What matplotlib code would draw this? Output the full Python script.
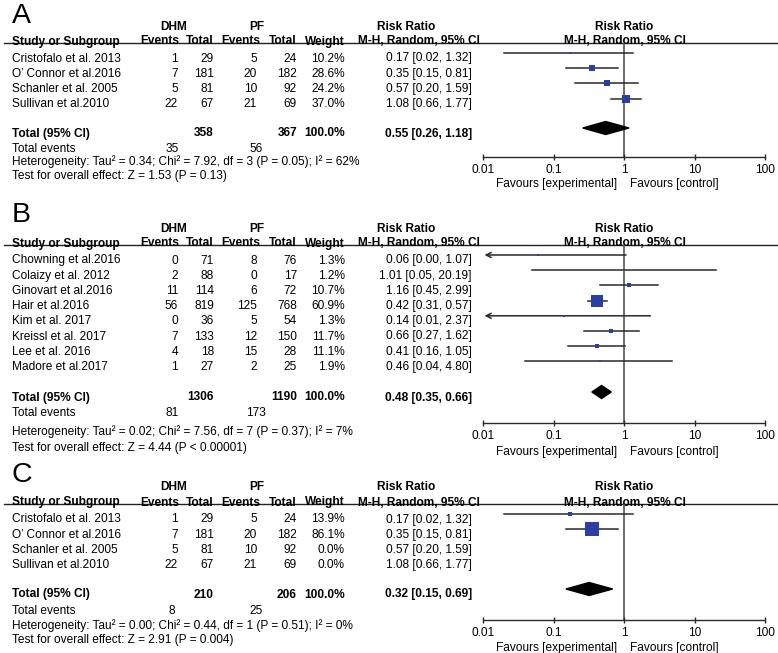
import matplotlib
matplotlib.use("Agg")
import matplotlib.pyplot as plt
from matplotlib.ticker import NullLocator

plt.rcParams['font.family'] = ['Liberation Sans', 'DejaVu Sans']

W, H = 778, 653

# ---- panel A ----
a_studies = ["Cristofalo et al. 2013", "O’ Connor et al.2016", "Schanler et al. 2005", "Sullivan et al.2010"]
a_dhm_events = [1, 7, 5, 22]
a_dhm_total = [29, 181, 81, 67]
a_pf_events = [5, 20, 10, 21]
a_pf_total = [24, 182, 92, 69]
a_weight = [10.2, 28.6, 24.2, 37.0]
a_rr = [0.17, 0.35, 0.57, 1.08]
a_lo = [0.02, 0.15, 0.20, 0.66]
a_hi = [1.32, 0.81, 1.59, 1.77]
a_totals = [358, 367]
a_pooled = [0.55, 0.26, 1.18]
a_events = [35, 56]
a_het = "Heterogeneity: Tau² = 0.34; Chi² = 7.92, df = 3 (P = 0.05); I² = 62%"
a_test = "Test for overall effect: Z = 1.53 (P = 0.13)"

# ---- panel B ----
b_studies = ["Chowning et al.2016", "Colaizy et al. 2012", "Ginovart et al.2016", "Hair et al.2016",
             "Kim et al. 2017", "Kreissl et al. 2017", "Lee et al. 2016", "Madore et al.2017"]
b_dhm_events = [0, 2, 11, 56, 0, 7, 4, 1]
b_dhm_total = [71, 88, 114, 819, 36, 133, 18, 27]
b_pf_events = [8, 0, 6, 125, 5, 12, 15, 2]
b_pf_total = [76, 17, 72, 768, 54, 150, 28, 25]
b_weight = [1.3, 1.2, 10.7, 60.9, 1.3, 11.7, 11.1, 1.9]
b_rr = [0.06, 1.01, 1.16, 0.42, 0.14, 0.66, 0.41, 0.46]
b_lo = [0.00, 0.05, 0.45, 0.31, 0.01, 0.27, 0.16, 0.04]
b_hi = [1.07, 20.19, 2.99, 0.57, 2.37, 1.62, 1.05, 4.80]
b_totals = [1306, 1190]
b_pooled = [0.48, 0.35, 0.66]
b_events = [81, 173]
b_het = "Heterogeneity: Tau² = 0.02; Chi² = 7.56, df = 7 (P = 0.37); I² = 7%"
b_test = "Test for overall effect: Z = 4.44 (P < 0.00001)"

# ---- panel C ----
c_studies = a_studies
c_dhm_events = [1, 7, 5, 22]
c_dhm_total = [29, 181, 81, 67]
c_pf_events = [5, 20, 10, 21]
c_pf_total = [24, 182, 92, 69]
c_weight = [13.9, 86.1, 0.0, 0.0]
c_rr = [0.17, 0.35, 0.57, 1.08]
c_lo = [0.02, 0.15, 0.20, 0.66]
c_hi = [1.32, 0.81, 1.59, 1.77]
c_totals = [210, 206]
c_pooled = [0.32, 0.15, 0.69]
c_events = [8, 25]
c_het = "Heterogeneity: Tau² = 0.00; Chi² = 0.44, df = 1 (P = 0.51); I² = 0%"
c_test = "Test for overall effect: Z = 2.91 (P = 0.004)"

BLUE = '#2b3ea3'
LINE = '#2a2a2a'
FS = 8.6

fig = plt.figure(figsize=(W / 100, H / 100), dpi=100)
bg = fig.add_axes([0, 0, 1, 1])
bg.set_xlim(0, W)
bg.set_ylim(H, 0)
bg.axis('off')


def txt(x, y, s, ha='left', bold=False, size=FS):
    bg.text(x, y + 4.5, s, ha=ha, va='baseline', fontsize=size,
            fontweight='bold' if bold else 'normal', color='black')


def panel(letter, lay, studies, de, dt, pe, pt, wt, rr, lo, hi, totals, pooled, events, het, test):
    sy = lay['study']
    line_y = sy + 3
    axis_y = lay['axis']
    bg.text(12, lay['letter'], letter, fontsize=20.5, va='baseline', ha='left')

    # headers
    txt(174, sy - 15, "DHM", ha='center', bold=True)
    txt(257, sy - 15, "PF", ha='center', bold=True)
    txt(406, sy - 15, "Risk Ratio", ha='center', bold=True)
    txt(624, sy - 15, "Risk Ratio", ha='center', bold=True)
    txt(12, sy, "Study or Subgroup", bold=True)
    txt(179, sy, "Events", ha='right', bold=True)
    txt(214, sy, "Total", ha='right', bold=True)
    txt(260, sy, "Events", ha='right', bold=True)
    txt(297, sy, "Total", ha='right', bold=True)
    txt(345, sy, "Weight", ha='right', bold=True)
    txt(419, sy, "M-H, Random, 95% CI", ha='center', bold=True)
    txt(625, sy, "M-H, Random, 95% CI", ha='center', bold=True)
    bg.plot([4, W], [line_y, line_y], color='#222222', lw=1.0)

    rows = [sy + 17 + 15.2 * i for i in range(len(studies))]
    for i, y in enumerate(rows):
        txt(12, y, studies[i])
        txt(178, y, str(de[i]), ha='right')
        txt(214, y, str(dt[i]), ha='right')
        txt(257, y, str(pe[i]), ha='right')
        txt(297, y, str(pt[i]), ha='right')
        txt(345, y, f"{wt[i]:.1f}%", ha='right')
        txt(472, y, f"{rr[i]:.2f} [{lo[i]:.2f}, {hi[i]:.2f}]", ha='right')

    ty = lay['total']
    txt(12, ty, "Total (95% CI)", bold=True)
    txt(214, ty, str(totals[0]), ha='right', bold=True)
    txt(297, ty, str(totals[1]), ha='right', bold=True)
    txt(345, ty, "100.0%", ha='right', bold=True)
    txt(472, ty, f"{pooled[0]:.2f} [{pooled[1]:.2f}, {pooled[2]:.2f}]", ha='right', bold=True)
    txt(12, lay['events'], "Total events")
    txt(172, lay['events'], str(events[0]), ha='center')
    txt(256, lay['events'], str(events[1]), ha='center')
    txt(12, lay['het'], het)
    txt(12, lay['test'], test)

    # forest plot
    x0, x1 = 483, 765
    ax = fig.add_axes([x0 / W, 1 - axis_y / H, (x1 - x0) / W, (axis_y - line_y) / H])
    ax.patch.set_visible(False)
    ax.set_xscale('log')
    ax.set_xlim(0.01, 100)
    ax.set_ylim(axis_y, line_y)
    for s in ['left', 'right', 'top']:
        ax.spines[s].set_visible(False)
    ax.spines['bottom'].set_color(LINE)
    ax.spines['bottom'].set_linewidth(1.0)
    ax.set_yticks([])
    ax.set_xticks([0.01, 0.1, 1, 10, 100], ['0.01', '0.1', '1', '10', '100'])
    ax.xaxis.set_minor_locator(NullLocator())
    ax.tick_params(axis='x', direction='inout', length=4.5, width=1.0, color=LINE,
                   pad=2.5, labelsize=FS)
    ax.axvline(1, color='#555555', lw=1.2, zorder=1)

    for i, y in enumerate(rows):
        if wt[i] <= 0:
            continue
        my = y - 4
        if lo[i] <= 0.01:
            ax.annotate('', xy=(0.0105, my), xytext=(hi[i], my),
                        arrowprops=dict(arrowstyle='->', color=LINE, lw=1.1,
                                        shrinkA=0, shrinkB=0, mutation_scale=9))
        else:
            ax.plot([lo[i], hi[i]], [my, my], color=LINE, lw=1.1, zorder=2)
        side = max(2.4, 0.52 * wt[i] ** 0.75)
        ax.plot(rr[i], my, marker='s', ms=side * 0.72, color=BLUE, mew=0, zorder=3)

    dy = ty - 4
    est, plo, phi = pooled
    ax.fill([plo, est, phi, est], [dy, dy - 6.5, dy, dy + 6.5], color='black', zorder=3)

    fy = lay['fav'] + 4.5
    ax.annotate('Favours [experimental]', xy=(1, fy), xytext=(-5, 0), textcoords='offset points',
                ha='right', va='baseline', fontsize=FS, annotation_clip=False)
    ax.annotate('Favours [control]', xy=(1, fy), xytext=(4, 0), textcoords='offset points',
                ha='left', va='baseline', fontsize=FS, annotation_clip=False)


panel('A', dict(study=40, axis=157, letter=23, total=132, events=147, het=161, test=175, fav=183),
      a_studies, a_dhm_events, a_dhm_total, a_pf_events, a_pf_total, a_weight,
      a_rr, a_lo, a_hi, a_totals, a_pooled, a_events, a_het, a_test)
panel('B', dict(study=242, axis=423, letter=222, total=396, events=411, het=431, test=446, fav=450),
      b_studies, b_dhm_events, b_dhm_total, b_pf_events, b_pf_total, b_weight,
      b_rr, b_lo, b_hi, b_totals, b_pooled, b_events, b_het, b_test)
panel('C', dict(study=501, axis=620, letter=482, total=593, events=609, het=624, test=638, fav=647),
      c_studies, c_dhm_events, c_dhm_total, c_pf_events, c_pf_total, c_weight,
      c_rr, c_lo, c_hi, c_totals, c_pooled, c_events, c_het, c_test)

fig.savefig('out.png', dpi=100)
